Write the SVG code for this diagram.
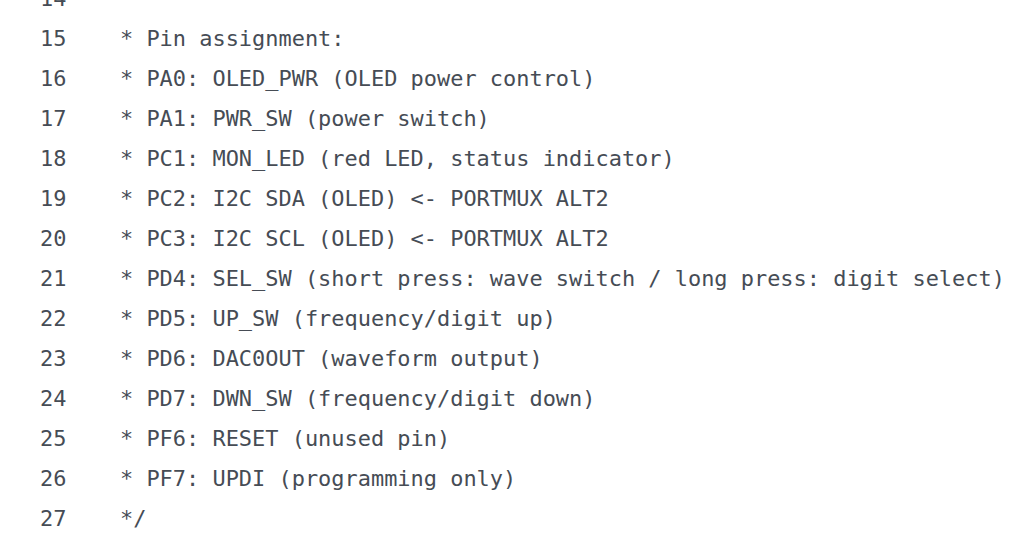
<svg xmlns="http://www.w3.org/2000/svg" width="1032" height="549" viewBox="0 0 1032 549">
<style>
text{font-family:"DejaVu Sans Mono","Liberation Mono",monospace;font-size:21.95px;fill:#464c55;white-space:pre}
.n{fill:#464c55}
</style>
<rect width="1032" height="549" fill="#ffffff"/>
<g id="numbers">
<text class="n" x="40" y="6">14</text>
<text class="n" x="40" y="46">15</text>
<text class="n" x="40" y="86">16</text>
<text class="n" x="40" y="126">17</text>
<text class="n" x="40" y="166">18</text>
<text class="n" x="40" y="206">19</text>
<text class="n" x="40" y="246">20</text>
<text class="n" x="40" y="286">21</text>
<text class="n" x="40" y="326">22</text>
<text class="n" x="40" y="366">23</text>
<text class="n" x="40" y="406">24</text>
<text class="n" x="40" y="446">25</text>
<text class="n" x="40" y="486">26</text>
<text class="n" x="40" y="526">27</text>
</g>
<g id="code">
<text x="120" y="46">* Pin assignment:</text>
<text x="120" y="86">* PA0: OLED_PWR (OLED power control)</text>
<text x="120" y="126">* PA1: PWR_SW (power switch)</text>
<text x="120" y="166">* PC1: MON_LED (red LED, status indicator)</text>
<text x="120" y="206">* PC2: I2C SDA (OLED) &lt;- PORTMUX ALT2</text>
<text x="120" y="246">* PC3: I2C SCL (OLED) &lt;- PORTMUX ALT2</text>
<text x="120" y="286">* PD4: SEL_SW (short press: wave switch / long press: digit select)</text>
<text x="120" y="326">* PD5: UP_SW (frequency/digit up)</text>
<text x="120" y="366">* PD6: DAC0OUT (waveform output)</text>
<text x="120" y="406">* PD7: DWN_SW (frequency/digit down)</text>
<text x="120" y="446">* PF6: RESET (unused pin)</text>
<text x="120" y="486">* PF7: UPDI (programming only)</text>
<text x="120" y="526">*/</text>
</g>
</svg>
